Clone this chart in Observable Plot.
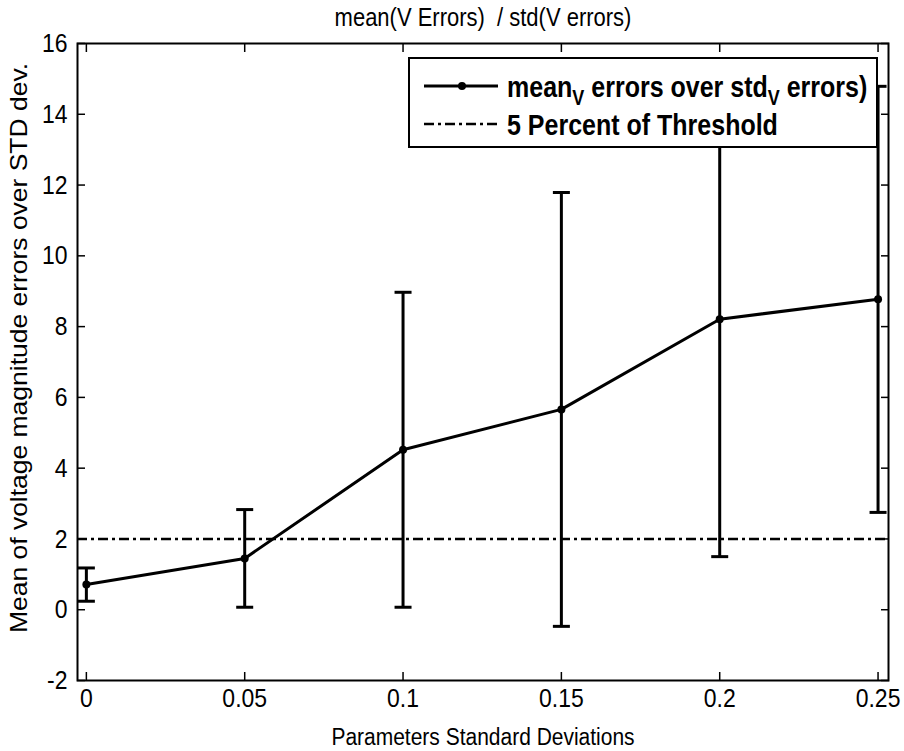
<!DOCTYPE html>
<html>
<head>
<meta charset="utf-8">
<script src="https://cdn.jsdelivr.net/npm/d3@7"></script>
<script src="https://cdn.jsdelivr.net/npm/@observablehq/plot@0.6"></script>
<style>
  body { margin: 0; background: #fff; }
  #wrap { position: relative; width: 904px; height: 751px; font-family: "Liberation Sans", Arial, sans-serif; }
  #legend { position: absolute; left: 408px; top: 57px; width: 466px; height: 87px; background: #fff; border: 2px solid #000; }
  #legend .row { position: absolute; left: 0; height: 34px; display: flex; align-items: center; }
  #legend svg { display: block; flex: none; }
  #legend .lbl { display: inline-block; font-weight: bold; font-size: 25px; margin-left: 1px; white-space: nowrap; line-height: 34px; transform: scaleY(1.18); transform-origin: 50% 50%; }
  #legend sub { font-size: 18px; vertical-align: -7px; line-height: 0; }
</style>
</head>
<body>
<div id="wrap"></div>
<script>
// ---- data ----
const stdDevs = [0, 0.05, 0.1, 0.15, 0.2, 0.25];
const meanRatio = [0.71, 1.45, 4.52, 5.66, 8.21, 8.77];
const errHalf = [0.47, 1.38, 4.45, 6.13, 6.71, 6.02];
const thresholdValue = 2;
const xTicks = [0, 0.05, 0.1, 0.15, 0.2, 0.25];
const yTicks = [-2, 0, 2, 4, 6, 8, 10, 12, 14, 16];
const titleText = "mean(V Errors)  / std(V errors)";
const xLabel = "Parameters Standard Deviations";
const yLabel = "Mean of voltage magnitude errors over STD dev.";
const legendMain = ["mean", "V", " errors over std", "V", " errors)"];
const legendThreshold = "5 Percent of Threshold";

const rows = stdDevs.map((x, i) => ({x, y: meanRatio[i], lo: meanRatio[i] - errHalf[i], hi: meanRatio[i] + errHalf[i]}));

const capSymbol = {
  draw(ctx, size) {
    const r = Math.sqrt(size / Math.PI);
    ctx.moveTo(-r, 0);
    ctx.lineTo(r, 0);
  }
};

const font = "Liberation Sans, Arial, sans-serif";
const dashDot = "10,4,3,4";

const chart = Plot.plot({
  width: 904,
  height: 751,
  marginLeft: 77,
  marginRight: 16,
  marginTop: 43,
  marginBottom: 71,
  style: {fontFamily: font, background: "#fff", color: "#000"},
  x: {domain: [-0.0028, 0.2533]},
  y: {domain: [-2, 16]},
  marks: [
    // inward tick marks on all four sides
    Plot.axisY(yTicks, {anchor: "left", tickSize: 8, dx: 8, fill: "none", label: null, strokeWidth: 1.5}),
    Plot.axisY(yTicks, {anchor: "right", tickSize: 8, dx: -8, fill: "none", label: null, strokeWidth: 1.5}),
    Plot.axisX(xTicks, {anchor: "bottom", tickSize: 8, dy: -8, fill: "none", label: null, strokeWidth: 1.5}),
    Plot.axisX(xTicks, {anchor: "top", tickSize: 8, dy: 8, fill: "none", label: null, strokeWidth: 1.5}),
    // tick labels
    Plot.axisY(yTicks, {anchor: "left", tickSize: 0, tickPadding: 10, fontSize: 23, label: null, tickFormat: d => String(d)}),
    Plot.axisX(xTicks, {anchor: "bottom", tickSize: 0, tickPadding: 9, fontSize: 23, label: null, tickFormat: d => String(d)}),
    // threshold line
    Plot.ruleY([thresholdValue], {stroke: "#000", strokeWidth: 2.5, strokeDasharray: dashDot}),
    // error bars
    Plot.ruleX(rows, {x: "x", y1: "lo", y2: "hi", stroke: "#000", strokeWidth: 3, clip: true}),
    Plot.dot(rows, {x: "x", y: "lo", symbol: capSymbol, r: 8.5, stroke: "#000", strokeWidth: 3, clip: true}),
    Plot.dot(rows, {x: "x", y: "hi", symbol: capSymbol, r: 8.5, stroke: "#000", strokeWidth: 3, clip: true}),
    // mean line
    Plot.line(rows, {x: "x", y: "y", stroke: "#000", strokeWidth: 3}),
    Plot.dot(rows, {x: "x", y: "y", r: 4, fill: "#000"}),
    Plot.frame({stroke: "#000", strokeWidth: 2}),
    // title and axis labels
    Plot.text([titleText], {frameAnchor: "top", lineAnchor: "middle", dy: -26, fontSize: 22, fill: "#000"}),
    Plot.text([xLabel], {frameAnchor: "bottom", lineAnchor: "middle", dy: 57, fontSize: 21, fill: "#000"}),
    Plot.text([yLabel], {frameAnchor: "left", textAnchor: "middle", lineAnchor: "middle", rotate: -90, dx: -58, dy: -14, fontSize: 24, fill: "#000"})
  ]
});

const wrap = document.getElementById("wrap");
wrap.appendChild(chart);

// the reference's text is taller than wide: stretch horizontal texts vertically,
// and stretch the vertical y-axis title along its length
d3.select(chart).selectAll("text").each(function() {
  const el = d3.select(this);
  if (this.textContent === yLabel) {
    el.attr("textLength", 570).attr("lengthAdjust", "spacingAndGlyphs");
    return;
  }
  const bb = this.getBBox();
  const cy = bb.y + bb.height / 2;
  const t = el.attr("transform") || "";
  el.attr("transform", `${t} translate(0,${cy}) scale(1,1.15) translate(0,${-cy})`);
});

// legend
const legend = document.createElement("div");
legend.id = "legend";
const row1 = document.createElement("div");
row1.className = "row";
row1.style.top = "10px";
row1.innerHTML = `<svg width="96" height="34"><line x1="14" x2="88" y1="17" y2="17" stroke="#000" stroke-width="3"/><circle cx="52" cy="17" r="4" fill="#000"/></svg>`;
const l1 = document.createElement("span");
l1.className = "lbl";
l1.innerHTML = `${legendMain[0]}<sub>${legendMain[1]}</sub>${legendMain[2]}<sub>${legendMain[3]}</sub>${legendMain[4]}`;
row1.appendChild(l1);
const row2 = document.createElement("div");
row2.className = "row";
row2.style.top = "48px";
row2.innerHTML = `<svg width="96" height="34"><line x1="14" x2="88" y1="17" y2="17" stroke="#000" stroke-width="2.5" stroke-dasharray="${dashDot}"/></svg>`;
const l2 = document.createElement("span");
l2.className = "lbl";
l2.textContent = legendThreshold;
row2.appendChild(l2);
legend.appendChild(row1);
legend.appendChild(row2);
wrap.appendChild(legend);
</script>
</body>
</html>
